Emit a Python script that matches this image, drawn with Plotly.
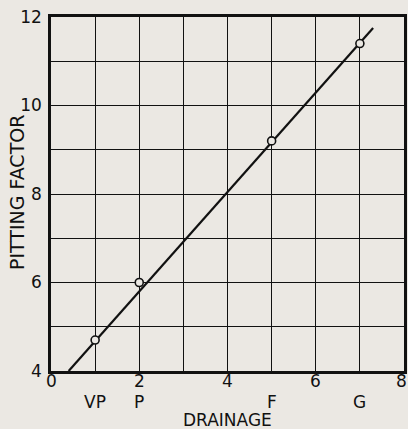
import plotly.graph_objects as go

# drainage class positions and measured pitting factor
drainage_pos = [1, 2, 5, 7]
drainage_labels = ["VP", "P", "F", "G"]
pitting_factor = [4.7, 6.0, 9.2, 11.4]

# fitted straight line, ends as drawn
line_x = [0.4, 7.3]
line_y = [4.0, 11.75]

x_ticks = [0, 2, 4, 6, 8]
y_ticks = [4, 5, 6, 7, 8, 9, 10, 11, 12]
y_ticktext = ["4", "", "6", "", "8", "", "10", "", "12"]

bg = "#ebe8e3"
ink = "#111111"
font = "DejaVu Sans"

fig = go.Figure()
fig.add_trace(go.Scatter(x=line_x, y=line_y, mode="lines",
                         line=dict(color=ink, width=2.2), hoverinfo="skip"))
fig.add_trace(go.Scatter(x=drainage_pos, y=pitting_factor, mode="markers",
                         marker=dict(size=8, color=bg, line=dict(color=ink, width=1.6))))

# x tick numbers as annotations (last one nudged in so it stays on the page)
for xv in x_ticks:
    fig.add_annotation(x=xv, y=0, xref="x", yref="paper", text=str(xv), showarrow=False,
                       yanchor="middle", yshift=-10, xshift=-3 if xv == 8 else 0,
                       font=dict(family=font, size=17, color=ink))

# drainage class letters below the axis
for xp, lab in zip(drainage_pos, drainage_labels):
    fig.add_annotation(x=xp, y=0, xref="x", yref="paper", text=lab, showarrow=False,
                       yanchor="middle", yshift=-31, font=dict(family=font, size=17, color=ink))

fig.add_annotation(x=0.5, y=0, xref="paper", yref="paper", text="DRAINAGE", showarrow=False,
                   yanchor="middle", yshift=-49, font=dict(family=font, size=17, color=ink))
fig.add_annotation(x=0, y=0.5, xref="paper", yref="paper", text="PITTING FACTOR",
                   showarrow=False, textangle=-90, xanchor="center", xshift=-34, yshift=1,
                   font=dict(family=font, size=19, color=ink))

fig.update_layout(
    width=408, height=429,
    margin=dict(l=51, r=4, t=17, b=58),
    paper_bgcolor=bg, plot_bgcolor=bg,
    showlegend=False,
    font=dict(family=font, size=17, color=ink),
)
fig.update_xaxes(
    range=[0, 8], dtick=1, showticklabels=False, automargin=False,
    showgrid=True, gridcolor=ink, gridwidth=1.3, zeroline=False,
    showline=True, linecolor=ink, linewidth=2.5, mirror=True, ticks="",
)
fig.update_yaxes(
    range=[4, 12], tickvals=y_ticks, ticktext=y_ticktext, automargin=False,
    showgrid=True, gridcolor=ink, gridwidth=1.3, zeroline=False,
    showline=True, linecolor=ink, linewidth=2.5, mirror=True,
    ticks="", ticklabelstandoff=3,
)

# drop the page's default body margin so the figure fills the window
fig.write_html("out.html", config={"displayModeBar": False},
               post_script="document.body.style.margin='0';"
                           "document.body.style.overflow='hidden';"
                           "document.body.style.background='" + bg + "';")
